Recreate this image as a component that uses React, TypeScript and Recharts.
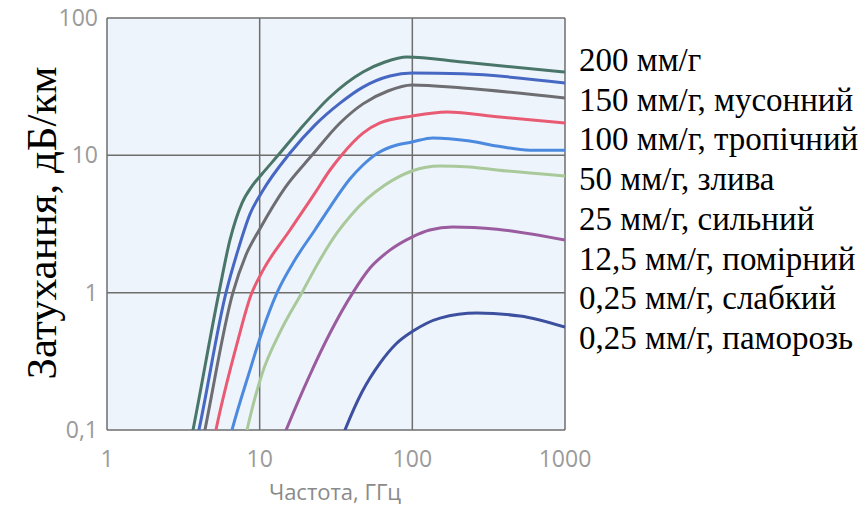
import { CartesianGrid, Line, LineChart, XAxis, YAxis } from "recharts";

// frequency (GHz) / attenuation (dB/km), one pair per curve
const freq200 = [3.34, 3.66, 5.41, 6.39, 7.66, 8.91, 10.35, 13.2, 18.4, 28.9, 47.5, 66.2, 92.2, 214, 1000];
const atten200 = [0.06, 0.1, 1, 2.42, 4.49, 5.97, 7.31, 10, 15.5, 26.6, 40.4, 47.8, 52, 47.8, 40.4];

const freq150 = [3.5, 4.0, 6.02, 7.21, 8.64, 10.35, 15.8, 23, 33.6, 47.5, 71.3, 99.4, 214, 1000];
const atten150 = [0.051, 0.1, 1, 2.04, 3.73, 5.41, 10.4, 16.6, 24, 31.4, 37.8, 39.7, 39.2, 33.6];

const freq100 = [3.88, 4.38, 6.68, 8.13, 10, 14.6, 22, 33.6, 47.5, 69.2, 99.4, 214, 1000];
const atten100 = [0.051, 0.1, 1, 1.88, 2.9, 5.78, 10, 17.2, 23.7, 29.4, 32.5, 30.9, 26.1];

const freq50 = [4.59, 5.17, 7.21, 8.77, 10.35, 15.8, 23, 28.9, 34.6, 47.5, 61.4, 99.4, 168.5, 375, 1000];
const atten50 = [0.051, 0.1, 0.452, 0.96, 1.41, 2.86, 5.31, 7.82, 10.1, 14.5, 17.2, 19.3, 20.7, 19, 17.2];

const freq25 = [5.66, 6.59, 8.64, 10.35, 13, 17, 23, 28.9, 39, 47.5, 59.5, 79.3, 99.4, 136, 238, 358, 589, 1000];
const atten25 = [0.051, 0.1, 0.273, 0.516, 1, 1.73, 2.86, 4.2, 6.72, 8.5, 10.4, 11.9, 12.5, 13.4, 12.7, 11.7, 10.9, 10.9];

const freq12 = [7.21, 8.26, 9.31, 10.35, 13.6, 18.9, 24.8, 32.1, 40.2, 50.4, 66.2, 99.4, 152, 238, 358, 1000];
const atten12 = [0.051, 0.1, 0.171, 0.255, 0.516, 1, 1.73, 2.72, 3.73, 4.81, 6.08, 7.69, 8.36, 8.22, 7.82, 7.07];

const freqLight = [11.7, 14.9, 21.3, 28.9, 40.8, 52.8, 71.3, 99.4, 130, 184, 358, 1000];
const attenLight = [0.051, 0.1, 0.251, 0.508, 1, 1.51, 2.04, 2.54, 2.86, 3.01, 2.9, 2.42];

const freqFrost = [28.9, 36.2, 46.8, 61.4, 78.1, 101, 152, 265, 507, 1000];
const attenFrost = [0.051, 0.1, 0.189, 0.307, 0.423, 0.525, 0.653, 0.71, 0.676, 0.561];

const legendLabels = [
  "200 мм/г",
  "150 мм/г, мусонний",
  "100 мм/г, тропічний",
  "50 мм/г, злива",
  "25 мм/г, сильний",
  "12,5 мм/г, помірний",
  "0,25 мм/г, слабкий",
  "0,25 мм/г, паморозь",
];

const xTicks = [1, 10, 100, 1000];
const yTicks = [0.1, 1, 10, 100];
const yTickLabels = ["0,1", "1", "10", "100"];

const toPoints = (freq: number[], atten: number[]) =>
  freq.map((f, i) => ({ f, a: atten[i] }));

const series = [
  { key: "r200", color: "#4a766a", data: toPoints(freq200, atten200) },
  { key: "r150", color: "#4768c2", data: toPoints(freq150, atten150) },
  { key: "r100", color: "#6d6d72", data: toPoints(freq100, atten100) },
  { key: "r50", color: "#e95a73", data: toPoints(freq50, atten50) },
  { key: "r25", color: "#4b8ade", data: toPoints(freq25, atten25) },
  { key: "r12", color: "#a9c99b", data: toPoints(freq12, atten12) },
  { key: "light", color: "#9a5c9f", data: toPoints(freqLight, attenLight) },
  { key: "frost", color: "#3d4f9f", data: toPoints(freqFrost, attenFrost) },
];

const tickStyle = { fill: "#9a9a9a", fontSize: 23, fontFamily: "'Open Sans', sans-serif" };

export default function App() {
  return (
    <div style={{ position: "absolute", left: 0, top: 0, width: 867, height: 505, background: "#fff" }}>
      <LineChart width={867} height={505} margin={{ top: 18, right: 302, bottom: 0, left: 0 }}>
        <CartesianGrid
          horizontalValues={yTicks}
          verticalValues={xTicks}
          stroke="#6e6e6e"
          strokeWidth={1.5}
          fill="#eef4fb"
          fillOpacity={1}
        />
        <XAxis
          dataKey="f"
          type="number"
          scale="log"
          domain={[1, 1000]}
          ticks={xTicks}
          allowDataOverflow
          height={75}
          axisLine={false}
          tickLine={false}
          tickSize={0}
          tickMargin={21}
          tick={tickStyle}
        />
        <YAxis
          dataKey="a"
          type="number"
          scale="log"
          domain={[0.1, 100]}
          ticks={yTicks}
          allowDataOverflow
          width={107}
          axisLine={false}
          tickLine={false}
          tickSize={0}
          tickMargin={9}
          tick={tickStyle}
          tickFormatter={(v) => yTickLabels[yTicks.indexOf(Number(v))] ?? String(v)}
        />
        {series.map((s) => (
          <Line
            key={s.key}
            data={s.data}
            dataKey="a"
            type="monotone"
            stroke={s.color}
            strokeWidth={3}
            dot={false}
            isAnimationActive={false}
          />
        ))}
      </LineChart>

      <div
        style={{
          position: "absolute",
          left: 41,
          top: 223,
          transform: "translate(-50%, -50%) rotate(-90deg)",
          whiteSpace: "nowrap",
          fontFamily: "'Liberation Serif', serif",
          fontSize: 43,
          color: "#000",
        }}
      >
        Затухання, дБ/км
      </div>

      <div
        style={{
          position: "absolute",
          left: 335,
          top: 491,
          transform: "translate(-50%, -50%)",
          whiteSpace: "nowrap",
          fontFamily: "'Open Sans', sans-serif",
          fontSize: 22,
          color: "#8a8a8a",
        }}
      >
        Частота, ГГц
      </div>

      <div
        style={{
          position: "absolute",
          left: 579,
          top: 41,
          fontFamily: "'Liberation Serif', serif",
          fontSize: 33,
          lineHeight: "39.7px",
          color: "#000",
          whiteSpace: "nowrap",
        }}
      >
        {legendLabels.map((label) => (
          <div key={label}>{label}</div>
        ))}
      </div>
    </div>
  );
}
